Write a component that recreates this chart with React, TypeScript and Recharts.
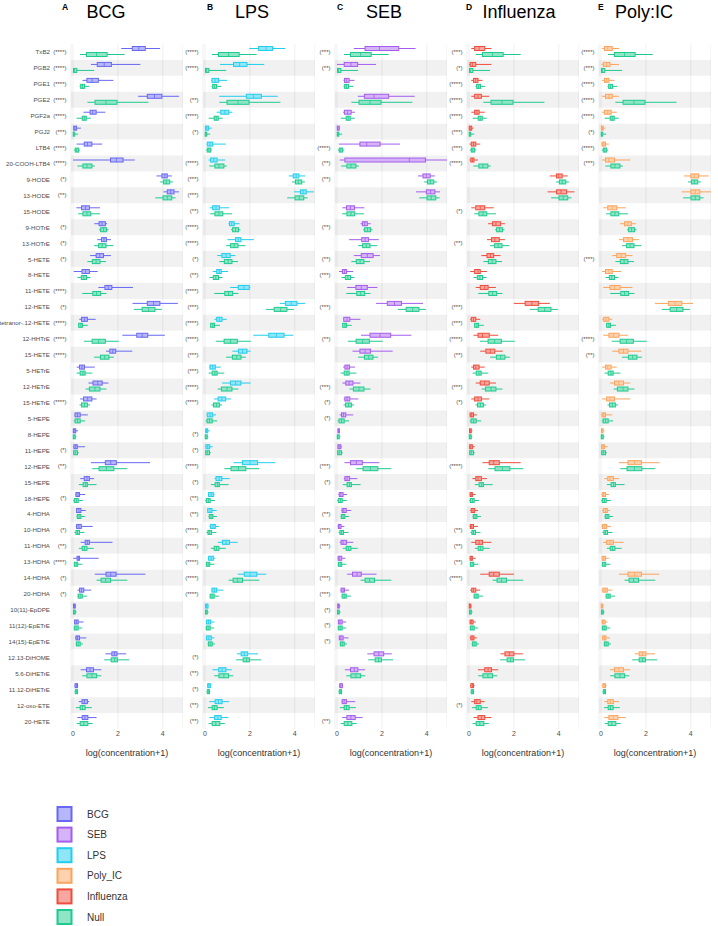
import React from 'react';
import { BarChart, Bar, XAxis, YAxis, CartesianGrid, ReferenceArea, Label } from 'recharts';

const lipids = ['TxB2','PGB2','PGE1','PGE2','PGF2a','PGJ2','LTB4','20-COOH-LTB4','9-HODE','13-HODE','15-HODE','9-HOTrE','13-HOTrE','5-HETE','8-HETE','11-HETE','12-HETE','tetranor-.12-HETE','12-HHTrE','15-HETE','5-HETrE','12-HETrE','15-HETrE','5-HEPE','8-HEPE','11-HEPE','12-HEPE','15-HEPE','18-HEPE','4-HDHA','10-HDHA','11-HDHA','13-HDHA','14-HDHA','20-HDHA','10(11)-EpDPE','11(12)-EpETrE','14(15)-EpETrE','12.13-DiHOME','5.6-DiHETrE','11.12-DiHETrE','12-oxo-ETE','20-HETE'];

// [min, q1, median, q3, max] of log(concentration+1)
const nullStats = [
  [0.31,0.6,1.05,1.52,2.3],[0,0.02,0.06,0.17,0.94],[0.29,0.34,0.42,0.51,0.73],[0.64,0.98,1.47,1.96,3.36],[0.16,0.41,0.5,0.59,0.79],
  [0,0.01,0.03,0.06,0.23],[0.04,0.1,0.17,0.25,0.31],[0.19,0.44,0.62,0.84,0.97],[3.88,4.03,4.16,4.31,4.45],[3.66,4.01,4.2,4.4,4.57],
  [0.23,0.44,0.62,0.79,1.2],[1.16,1.23,1.36,1.49,1.58],[0.94,1.14,1.3,1.47,1.8],[0.64,0.86,1.03,1.2,1.47],[0.2,0.37,0.48,0.6,0.78],
  [0.41,0.88,1.05,1.23,1.49],[2.71,3.08,3.37,3.65,3.96],[0.23,0.25,0.35,0.42,0.66],[0.48,0.85,1.14,1.44,2.04],[0.94,1.22,1.41,1.6,1.82],
  [0.16,0.32,0.44,0.54,0.86],[0.56,0.73,0.98,1.2,1.49],[0.29,0.38,0.51,0.64,0.76],[0.03,0.09,0.2,0.32,0.54],[0,0.01,0.04,0.1,0.15],
  [0.01,0.03,0.1,0.2,0.26],[0.86,1.16,1.49,1.82,2.42],[0.26,0.45,0.56,0.64,1.05],[0.01,0.06,0.15,0.23,0.44],[0.16,0.19,0.27,0.35,0.53],
  [0.06,0.13,0.2,0.29,0.51],[0.26,0.41,0.51,0.62,0.92],[0.04,0.06,0.14,0.21,0.42],[1.05,1.25,1.45,1.67,2.42],[0.2,0.23,0.32,0.41,0.62],
  [0.01,0.02,0.05,0.1,0.16],[0.03,0.06,0.14,0.23,0.41],[0.12,0.15,0.23,0.32,0.44],[1.39,1.7,1.85,1.98,2.5],[0.41,0.62,0.84,1.05,1.26],
  [0.07,0.1,0.15,0.2,0.23],[0.13,0.32,0.42,0.54,0.84],[0.16,0.32,0.48,0.66,0.88],
];

const bcgStats = [
  [2.15,2.64,2.93,3.22,3.88],[0.8,1.08,1.39,1.71,3.0],[0.42,0.62,0.85,1.13,1.8],[2.9,3.31,3.63,3.96,4.72],[0.47,0.76,0.88,1.03,1.44],
  [0.03,0.03,0.08,0.16,0.35],[0.16,0.5,0.64,0.84,1.3],[0,1.67,1.93,2.23,2.75],[3.72,3.96,4.09,4.2,4.4],[4.03,4.2,4.35,4.5,4.72],
  [0.15,0.38,0.56,0.73,1.2],[0.95,1.16,1.29,1.44,1.52],[1.08,1.27,1.38,1.49,1.69],[0.76,1.03,1.19,1.36,1.69],[0.03,0.4,0.56,0.73,1.1],
  [1.13,1.42,1.57,1.73,2.67],[2.65,3.31,3.59,3.87,4.67],[0.28,0.38,0.51,0.64,1.01],[2.2,2.84,3.08,3.33,4.09],[1.47,1.64,1.77,1.9,2.64],
  [0.16,0.29,0.4,0.51,0.97],[0.69,0.89,1.1,1.3,1.58],[0.32,0.47,0.65,0.84,1.05],[0.06,0.09,0.2,0.32,0.66],[0,0.01,0.05,0.12,0.22],
  [0.01,0.04,0.12,0.19,0.53],[0.8,1.44,1.68,1.93,3.43],[0.32,0.5,0.62,0.73,0.94],[0.1,0.13,0.22,0.29,0.54],[0.15,0.16,0.26,0.35,0.57],
  [0.12,0.16,0.26,0.37,0.88],[0.34,0.54,0.64,0.73,1.76],[0.01,0.18,0.24,0.29,1.14],[0.97,1.47,1.68,1.92,3.22],[0.2,0.29,0.38,0.48,0.81],
  [0.01,0.02,0.06,0.1,0.12],[0.06,0.07,0.15,0.23,0.47],[0.09,0.13,0.2,0.29,0.59],[1.44,1.73,1.85,1.96,2.37],[0.34,0.6,0.76,0.91,1.26],
  [0.07,0.09,0.15,0.2,0.23],[0.25,0.4,0.51,0.64,0.72],[0.19,0.41,0.53,0.66,1.05],
];

const lpsStats = [
  [1.97,2.39,2.72,3.01,3.58],[0.67,1.27,1.54,1.87,2.64],[0.28,0.31,0.45,0.6,0.99],[0.63,1.84,2.16,2.51,3.24],[0.52,0.7,0.88,1.06,1.22],
  [0,0.02,0.08,0.16,0.3],[0.07,0.1,0.22,0.34,0.93],[0.16,0.25,0.39,0.54,0.9],[3.73,3.93,4.06,4.18,4.46],[3.96,4.25,4.37,4.51,4.85],
  [0.22,0.34,0.49,0.64,1.07],[1.04,1.09,1.19,1.3,1.54],[1.0,1.36,1.48,1.6,2.18],[0.54,0.75,0.94,1.12,1.36],[0.34,0.52,0.63,0.72,1.03],
  [1.12,1.48,1.73,1.97,2.02],[3.33,3.58,3.84,4.1,4.46],[0.42,0.52,0.64,0.76,0.97],[2.15,2.84,3.18,3.52,3.93],[1.22,1.49,1.67,1.87,2.03],
  [0.19,0.22,0.34,0.46,0.7],[0.76,1.13,1.36,1.6,2.03],[0.4,0.58,0.75,0.92,1.15],[0.07,0.1,0.22,0.34,0.49],[0.01,0.03,0.07,0.12,0.21],
  [0.01,0.04,0.12,0.21,0.34],[1.27,1.67,2.01,2.34,3.13],[0.43,0.49,0.63,0.75,1.1],[0.13,0.16,0.27,0.37,0.43],[0.1,0.12,0.22,0.31,0.52],
  [0.19,0.25,0.36,0.46,0.64],[0.57,0.78,0.94,1.09,1.45],[0.12,0.16,0.27,0.37,0.46],[1.46,1.75,2.01,2.31,2.73],[0.27,0.31,0.42,0.52,0.82],
  [0.01,0.02,0.07,0.13,0.16],[0.04,0.07,0.16,0.25,0.42],[0.04,0.07,0.17,0.28,0.42],[1.42,1.61,1.75,1.9,2.36],[0.33,0.61,0.76,0.93,1.19],
  [0.1,0.12,0.17,0.24,0.25],[0.19,0.45,0.6,0.76,1.07],[0.19,0.43,0.57,0.72,1.04],
];

const sebStats = [
  [0.75,1.25,1.89,2.75,3.5],[0,0.32,0.62,0.92,1.74],[0.29,0.33,0.42,0.54,0.78],[0.93,1.22,1.65,2.3,3.46],[0.27,0.33,0.47,0.63,0.8],
  [0,0.01,0.04,0.1,0.12],[0.08,1.02,1.32,1.92,2.81],[0.12,0.35,3.22,3.94,4.93],[3.61,3.83,3.98,4.15,4.36],[3.52,3.98,4.17,4.36,4.59],
  [0.24,0.42,0.6,0.78,1.22],[1.05,1.13,1.23,1.35,1.5],[0.54,1.1,1.25,1.4,1.86],[0.75,1.08,1.35,1.61,1.91],[0.09,0.24,0.33,0.42,0.72],
  [0.45,0.84,1.08,1.35,1.8],[1.74,2.24,2.56,2.87,3.83],[0.27,0.3,0.45,0.57,1.04],[1.07,1.47,1.92,2.39,3.31],[0.69,1.02,1.25,1.49,2.48],
  [0.27,0.35,0.45,0.56,0.8],[0.24,0.39,0.54,0.71,1.04],[0.3,0.35,0.45,0.57,0.95],[0.12,0.2,0.29,0.39,0.72],[0.03,0.04,0.07,0.1,0.12],
  [0.03,0.04,0.1,0.17,0.23],[0.33,0.6,0.86,1.13,1.89],[0.3,0.35,0.45,0.56,0.9],[0.06,0.1,0.17,0.27,0.45],[0.18,0.23,0.3,0.41,0.63],
  [0.03,0.06,0.1,0.18,0.33],[0.12,0.18,0.27,0.42,0.72],[0.03,0.05,0.12,0.21,0.38],[0.45,0.69,0.89,1.08,1.76],[0.15,0.18,0.27,0.33,0.54],
  [0.02,0.03,0.06,0.1,0.15],[0.05,0.06,0.13,0.23,0.41],[0.09,0.1,0.17,0.27,0.51],[1.35,1.65,1.86,2.08,2.44],[0.35,0.6,0.77,0.93,1.25],
  [0.1,0.12,0.17,0.24,0.27],[0.2,0.23,0.32,0.42,0.81],[0.23,0.44,0.62,0.81,1.14],
];

const fluStats = [
  [0.1,0.25,0.45,0.7,1.0],[0,0.05,0.15,0.3,1.0],[0.1,0.2,0.3,0.4,0.6],[0.1,0.25,0.4,0.55,0.9],[0.1,0.25,0.35,0.45,0.7],
  [0,0.01,0.05,0.12,0.2],[0.02,0.1,0.2,0.3,0.5],[0.02,0.08,0.15,0.22,0.4],[3.6,3.9,4.0,4.15,4.4],[3.5,3.9,4.1,4.35,4.7],
  [0.1,0.3,0.5,0.7,1.1],[0.85,1.05,1.2,1.4,1.6],[0.8,1.0,1.15,1.35,1.6],[0.55,0.8,0.95,1.1,1.4],[0.05,0.25,0.4,0.5,0.8],
  [0.3,0.5,0.7,0.85,1.2],[2.0,2.5,2.8,3.1,3.6],[0.05,0.1,0.2,0.3,0.5],[0.2,0.4,0.6,0.9,1.3],[0.5,0.75,0.95,1.15,1.5],
  [0.1,0.2,0.3,0.45,0.7],[0.3,0.5,0.7,0.9,1.2],[0.1,0.25,0.4,0.55,0.9],[0.02,0.05,0.12,0.2,0.35],[0,0.02,0.05,0.1,0.15],
  [0,0.03,0.08,0.15,0.25],[0.6,0.9,1.1,1.35,2.3],[0.15,0.3,0.4,0.55,0.8],[0.02,0.05,0.1,0.15,0.3],[0.05,0.1,0.18,0.25,0.4],
  [0.02,0.06,0.12,0.2,0.4],[0.1,0.3,0.45,0.6,1.0],[0.02,0.05,0.1,0.15,0.3],[0.5,0.9,1.1,1.35,2.0],[0.05,0.12,0.2,0.3,0.5],
  [0,0.01,0.04,0.08,0.12],[0.02,0.05,0.1,0.18,0.3],[0.03,0.08,0.14,0.22,0.35],[1.4,1.6,1.8,2.0,2.4],[0.4,0.7,0.85,1.0,1.3],
  [0.05,0.08,0.15,0.2,0.25],[0.1,0.25,0.35,0.5,0.7],[0.2,0.4,0.55,0.7,1.0],
];

const polyStats = [
  [0.05,0.15,0.3,0.5,0.8],[0.02,0.1,0.25,0.4,0.8],[0.05,0.15,0.25,0.35,0.6],[0.05,0.2,0.35,0.5,0.8],[0.05,0.15,0.3,0.45,0.7],
  [0,0.02,0.06,0.1,0.2],[0,0.05,0.12,0.2,0.35],[0.05,0.2,0.35,0.6,1.3],[3.7,4.0,4.15,4.35,4.8],[3.6,4.0,4.2,4.4,4.9],
  [0.1,0.3,0.5,0.7,1.1],[0.85,1.05,1.2,1.35,1.55],[0.8,1.0,1.2,1.4,1.7],[0.5,0.7,0.9,1.1,1.4],[0.05,0.2,0.35,0.5,0.9],
  [0.1,0.4,0.6,0.85,1.4],[2.4,3.0,3.3,3.6,4.1],[0.05,0.12,0.22,0.35,0.5],[0.1,0.35,0.55,0.8,1.2],[0.5,0.8,1.0,1.2,1.8],
  [0.05,0.2,0.3,0.45,0.7],[0.4,0.6,0.8,1.0,1.3],[0.05,0.25,0.4,0.6,1.3],[0,0.05,0.12,0.2,0.5],[0,0.02,0.05,0.08,0.15],
  [0,0.03,0.08,0.15,0.3],[0.8,1.2,1.5,1.8,2.6],[0.15,0.3,0.4,0.55,0.8],[0.02,0.06,0.12,0.2,0.35],[0.05,0.1,0.2,0.28,0.4],
  [0.02,0.06,0.15,0.25,0.45],[0.1,0.25,0.4,0.55,1.0],[0.02,0.05,0.12,0.2,0.35],[0.8,1.2,1.5,1.8,2.6],[0.03,0.08,0.18,0.28,0.5],
  [0,0.01,0.04,0.08,0.12],[0.02,0.05,0.1,0.18,0.3],[0.03,0.08,0.15,0.22,0.4],[1.5,1.7,1.85,2.0,2.4],[0.4,0.6,0.8,1.0,1.3],
  [0.05,0.08,0.14,0.2,0.25],[0.15,0.3,0.42,0.55,0.8],[0.15,0.35,0.55,0.75,1.1],
];

const sigBCG = ['(****)','(****)','(****)','(****)','(****)','(***)','(****)','(****)','(*)','(**)','','(*)','(*)','(*)','','(****)','(*)','(****)','(****)','(****)','','','(****)','','','(*)','(**)','','(*)','','(*)','(**)','(****)','(*)','(*)','','','','','','','',''];
const sigLPS = ['(****)','(****)','','(**)','(****)','(*)','','(****)','(***)','(***)','(**)','(****)','(****)','(*)','(**)','(****)','(***)','(****)','(****)','(***)','(***)','(****)','(****)','','(*)','(*)','(****)','(*)','(**)','(**)','(****)','(****)','(****)','(****)','(****)','','','','(*)','(**)','(*)','(**)','(**)'];
const sigSEB = ['(***)','(**)','','','','','(****)','(**)','(**)','','','(**)','','(**)','(***)','','(***)','','(**)','','','(***)','(*)','(*)','','','(***)','(*)','','(**)','(***)','(***)','','(***)','(***)','(*)','(*)','(*)','','','','','(**)'];
const sigFlu = ['(***)','(*)','(****)','(****)','(****)','(***)','(***)','(****)','','','(*)','','(**)','','','','(***)','(***)','(****)','(**)','','(***)','(*)','','','','(****)','','','','(**)','(**)','(**)','(****)','','','','','','','','(*)',''];
const sigPoly = ['(****)','(***)','(****)','(****)','(****)','(*)','(****)','(***)','','','','','','(***)','','','','','(****)','(**)','','','','','','','','','','','','','','','','','','','','','','',''];

const legendNames = ['BCG','SEB','LPS','Poly_IC','Influenza','Null'];
const legendStroke = ['#6868f2','#a45ded','#22cdee','#fca35c','#ee4d3d','#1fca8f'];
const legendFill = ['#b6b6fb','#d4b3f6','#8ee6f7','#fed2ae','#f7a79f','#8fe5c6'];

const FONT = '"Liberation Sans", Arial, Helvetica, sans-serif';
const PLOT_W = 112;
const TOP = 44;
const PLOT_H = 685;
const XAX_H = 35;

const panels = [
  { letter: 'A', title: 'BCG', stats: bcgStats, sig: sigBCG, ci: 0, plotLeft: 71, yw: 71, names: true, letterX: 62, titleX: 106 },
  { letter: 'B', title: 'LPS', stats: lpsStats, sig: sigLPS, ci: 2, plotLeft: 203, yw: 24, names: false, letterX: 207, titleX: 252 },
  { letter: 'C', title: 'SEB', stats: sebStats, sig: sigSEB, ci: 1, plotLeft: 335, yw: 24, names: false, letterX: 337, titleX: 384 },
  { letter: 'D', title: 'Influenza', stats: fluStats, sig: sigFlu, ci: 4, plotLeft: 467, yw: 24, names: false, letterX: 466, titleX: 519 },
  { letter: 'E', title: 'Poly:IC', stats: polyStats, sig: sigPoly, ci: 3, plotLeft: 599, yw: 24, names: false, letterX: 598, titleX: 644 },
];

function makeShape(key: string, color: string, fill: string) {
  return (props: any) => {
    const { x, y, width, height, payload } = props;
    const st = payload && payload[key];
    if (!st || x == null || width == null) return <g />;
    const [mn, q1, md, q3, mx] = st;
    const span = mx - mn;
    const px = (v: number) => (span > 0 ? x + ((v - mn) / span) * width : x);
    const cy = y + height / 2;
    const bx = px(q1);
    const bw = Math.max(px(q3) - px(q1), 1.5);
    return (
      <g>
        <line x1={px(mn)} x2={bx} y1={cy} y2={cy} stroke={color} strokeWidth={1} />
        <line x1={bx + bw} x2={px(mx)} y1={cy} y2={cy} stroke={color} strokeWidth={1} />
        <rect x={bx} y={y + 0.5} width={bw} height={height - 1} fill={fill} stroke={color} strokeWidth={1} />
        <line x1={px(md)} x2={px(md)} y1={y + 0.5} y2={y + height - 0.5} stroke={color} strokeWidth={0.8} />
      </g>
    );
  };
}

function makeTick(sig: string[], names: boolean) {
  return (props: any) => {
    const { x, y, payload } = props;
    const i = lipids.indexOf(payload.value);
    return (
      <g>
        {names && (
          <text x={x - 21} y={y} textAnchor="end" dominantBaseline="central" fontSize={6.2} fill="#4d4d4d" fontFamily={FONT}>
            {payload.value}
          </text>
        )}
        <text x={x - 4.5} y={y} textAnchor="end" dominantBaseline="central" fontSize={6} fill="#4d4d4d" fontFamily={FONT}>
          {sig[i]}
        </text>
      </g>
    );
  };
}

function Panel({ p }: { p: any }) {
  const rows = lipids.map((name, i) => ({ name, s: p.stats[i], n: nullStats[i] }));
  const w = p.yw + PLOT_W;
  return (
    <div style={{ position: 'absolute', left: p.plotLeft - p.yw, top: 0 }}>
      <BarChart
        width={w}
        height={TOP + PLOT_H + XAX_H}
        data={rows}
        layout="vertical"
        margin={{ top: TOP, right: 0, bottom: 0, left: 0 }}
        barGap={1}
      >
        <CartesianGrid horizontal={false} stroke="#ebebeb" strokeWidth={0.8} />
        {lipids.map((name, i) =>
          i % 2 === 1 ? (
            <ReferenceArea key={name} y1={name} y2={name} fill="#000000" fillOpacity={0.055} stroke="none" ifOverflow="visible" />
          ) : null
        )}
        <XAxis
          type="number"
          domain={[-0.09, 4.9]}
          ticks={[0, 2, 4]}
          allowDataOverflow
          axisLine={false}
          tickLine={false}
          tickSize={0}
          tickMargin={2}
          height={XAX_H}
          tick={{ fontSize: 7, fill: '#4d4d4d', fontFamily: FONT }}
        >
          <Label value="log(concentration+1)" position="insideBottom" offset={8} fontSize={9} fill="#333333" fontFamily={FONT} />
        </XAxis>
        <YAxis
          type="category"
          dataKey="name"
          width={p.yw}
          axisLine={false}
          tickLine={false}
          tickSize={0}
          tickMargin={0}
          interval={0}
          tick={makeTick(p.sig, p.names)}
        />
        <Bar
          dataKey={(d: any) => [d.s[0], d.s[4]]}
          barSize={5}
          isAnimationActive={false}
          shape={makeShape('s', legendStroke[p.ci], legendFill[p.ci])}
        />
        <Bar
          dataKey={(d: any) => [d.n[0], d.n[4]]}
          barSize={5}
          isAnimationActive={false}
          shape={makeShape('n', legendStroke[5], legendFill[5])}
        />
      </BarChart>
    </div>
  );
}

export default function App() {
  return (
    <div style={{ position: 'absolute', left: 0, top: 0, width: 718, height: 926, background: '#ffffff', fontFamily: FONT }}>
      <svg width={718} height={926} style={{ position: 'absolute', left: 0, top: 0 }}>
        {panels.map((p) => (
          <g key={p.letter}>
            <text x={p.letterX} y={9.5} fontSize={8.5} fontWeight="bold" fill="#000" fontFamily={FONT}>{p.letter}</text>
            <text x={p.titleX} y={18} fontSize={18} textAnchor="middle" fill="#000" fontFamily={FONT}>{p.title}</text>
          </g>
        ))}
        {legendNames.map((n, i) => {
          const cy = 814 + i * 20.6;
          return (
            <g key={n}>
              <rect x={57.5} y={cy - 7} width={14} height={14} fill={legendFill[i]} stroke={legendStroke[i]} strokeWidth={2} />
              <text x={87} y={cy} dominantBaseline="central" fontSize={10} fill="#333333" fontFamily={FONT}>{n}</text>
            </g>
          );
        })}
      </svg>
      {panels.map((p) => (
        <Panel key={p.letter} p={p} />
      ))}
    </div>
  );
}
